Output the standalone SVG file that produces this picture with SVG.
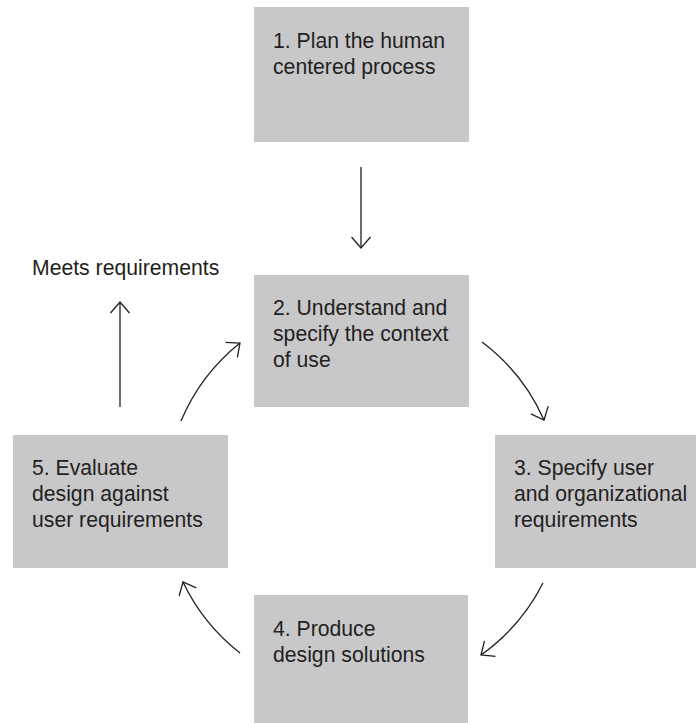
<svg xmlns="http://www.w3.org/2000/svg" width="696" height="723" viewBox="0 0 696 723">
<defs>
<style>
.box{fill:#c8c8ca;}
.t{font-family:"Liberation Sans",Arial,Helvetica,sans-serif;font-size:21.2px;fill:#231f20;}
.c{fill:none;stroke:#231f20;stroke-width:1.3;}
</style>
<marker id="ah" markerUnits="userSpaceOnUse" markerWidth="24" markerHeight="24" viewBox="-13 -12 16 24" refX="0" refY="0" orient="auto">
<path d="M-11,-9.5 L0,0 L-11,9.5" fill="none" stroke="#231f20" stroke-width="1.3"/>
</marker>
</defs>
<rect width="696" height="723" fill="#ffffff"/>
<g id="node1">
<rect class="box" x="254" y="7" width="215" height="135"/>
<text class="t" x="273" y="48">1. Plan the human</text>
<text class="t" x="273" y="74">centered process</text>
</g>
<g id="node2">
<rect class="box" x="254" y="275" width="215" height="132"/>
<text class="t" x="273" y="315">2. Understand and</text>
<text class="t" x="273" y="341">specify the context</text>
<text class="t" x="273" y="367">of use</text>
</g>
<g id="node3">
<rect class="box" x="495" y="435" width="201" height="133"/>
<text class="t" x="514" y="475">3. Specify user</text>
<text class="t" x="514" y="501">and organizational</text>
<text class="t" x="514" y="527">requirements</text>
</g>
<g id="node4">
<rect class="box" x="254" y="595" width="214" height="128"/>
<text class="t" x="273" y="636">4. Produce</text>
<text class="t" x="273" y="662">design solutions</text>
</g>
<g id="node5">
<rect class="box" x="13" y="435" width="215" height="133"/>
<text class="t" x="32" y="475">5. Evaluate</text>
<text class="t" x="32" y="501">design against</text>
<text class="t" x="32" y="527">user requirements</text>
</g>
<g id="label-meets">
<text class="t" x="32" y="275">Meets requirements</text>
</g>
<g id="connectors">
<path class="c" d="M361,167 L361,248" marker-end="url(#ah)"/>
<path class="c" d="M120,407 L120,302" marker-end="url(#ah)"/>
<path class="c" d="M482,342 A198,198 0 0 1 544,420" marker-end="url(#ah)"/>
<path class="c" d="M543,583 A198,198 0 0 1 481,655" marker-end="url(#ah)"/>
<path class="c" d="M240,653 A198,198 0 0 1 183,582" marker-end="url(#ah)"/>
<path class="c" d="M181,421 A198,198 0 0 1 240,343" marker-end="url(#ah)"/>
</g>
</svg>
